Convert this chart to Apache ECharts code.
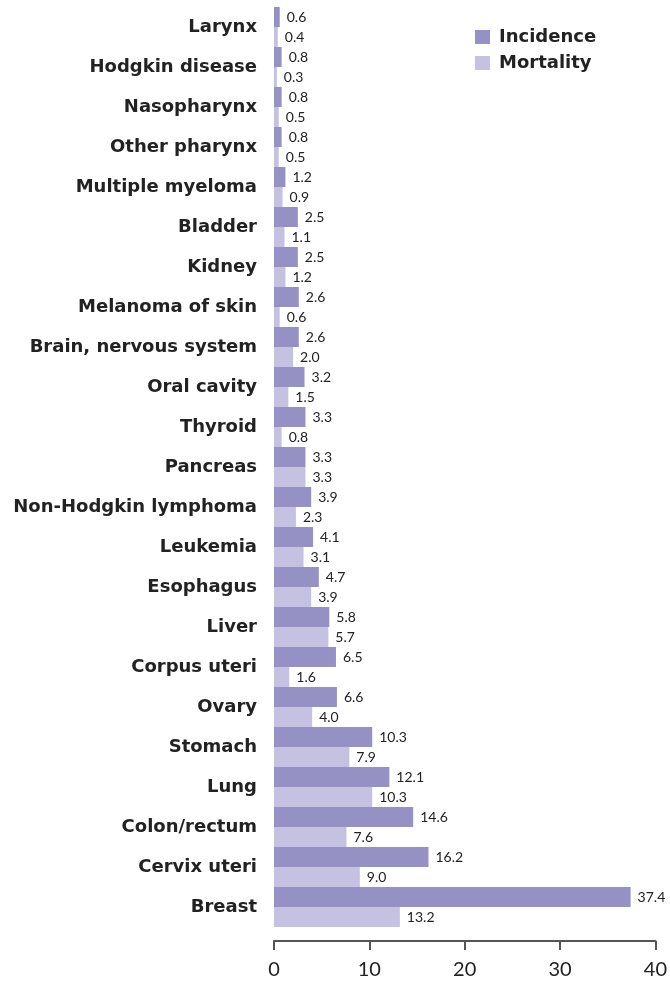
<!DOCTYPE html>
<html>
<head>
<meta charset="utf-8">
<script src="https://cdn.jsdelivr.net/npm/echarts@6/dist/echarts.min.js"></script>
<style>
  html, body { margin: 0; padding: 0; background: #fff; }
  #chart { width: 670px; height: 985px; }
</style>
</head>
<body>
<div id="chart"></div>
<script>
// sites, top to bottom
const sites = [
  'Larynx', 'Hodgkin disease', 'Nasopharynx', 'Other pharynx', 'Multiple myeloma',
  'Bladder', 'Kidney', 'Melanoma of skin', 'Brain, nervous system', 'Oral cavity',
  'Thyroid', 'Pancreas', 'Non-Hodgkin lymphoma', 'Leukemia', 'Esophagus',
  'Liver', 'Corpus uteri', 'Ovary', 'Stomach', 'Lung',
  'Colon/rectum', 'Cervix uteri', 'Breast'
]
const incidence = [
  0.6, 0.8, 0.8, 0.8, 1.2,
  2.5, 2.5, 2.6, 2.6, 3.2,
  3.3, 3.3, 3.9, 4.1, 4.7,
  5.8, 6.5, 6.6, 10.3, 12.1,
  14.6, 16.2, 37.4
]
const mortality = [
  0.4, 0.3, 0.5, 0.5, 0.9,
  1.1, 1.2, 0.6, 2.0, 1.5,
  0.8, 3.3, 2.3, 3.1, 3.9,
  5.7, 1.6, 4.0, 7.9, 10.3,
  7.6, 9.0, 13.2
]
const xTicks = [0, 10, 20, 30, 40]

const chart = echarts.init(document.getElementById('chart'))

const valueLabel = {
  show: true,
  position: 'right',
  distance: 7,
  color: '#222',
  fontFamily: 'Lato',
  fontSize: 14,
  formatter: p => p.value.toFixed(1)
}

chart.setOption({
  animation: false,
  color: ['#9691c4', '#c4c2e0'],
  grid: { left: 274, right: 11, top: 7, bottom: 58 },
  legend: {
    left: 470,
    top: 23,
    orient: 'vertical',
    itemWidth: 15,
    itemHeight: 14,
    itemGap: 8,
    icon: 'rect',
    textStyle: { color: '#222', fontFamily: 'DejaVu Sans', fontWeight: 'bold', fontSize: 18, padding: [0, 0, 0, 4] },
    data: ['Incidence', 'Mortality']
  },
  xAxis: {
    type: 'value',
    min: xTicks[0],
    max: xTicks[xTicks.length - 1],
    interval: 10,
    offset: 14,
    splitLine: { show: false },
    axisLine: { show: true, lineStyle: { color: '#555', width: 2 } },
    axisTick: { show: true, length: 9, lineStyle: { color: '#555', width: 2 } },
    axisLabel: { color: '#222', fontFamily: 'Lato', fontSize: 20, margin: 19 }
  },
  yAxis: {
    type: 'category',
    inverse: true,
    data: sites,
    axisLine: { show: false },
    axisTick: { show: false },
    axisLabel: { color: '#222', fontFamily: 'DejaVu Sans', fontWeight: 'bold', fontSize: 18, margin: 17, padding: [3, 0, 0, 0] }
  },
  series: [
    {
      name: 'Incidence',
      type: 'bar',
      data: incidence,
      barGap: '0%',
      barCategoryGap: '0%',
      label: valueLabel
    },
    {
      name: 'Mortality',
      type: 'bar',
      data: mortality,
      label: valueLabel
    }
  ]
})
</script>
</body>
</html>
